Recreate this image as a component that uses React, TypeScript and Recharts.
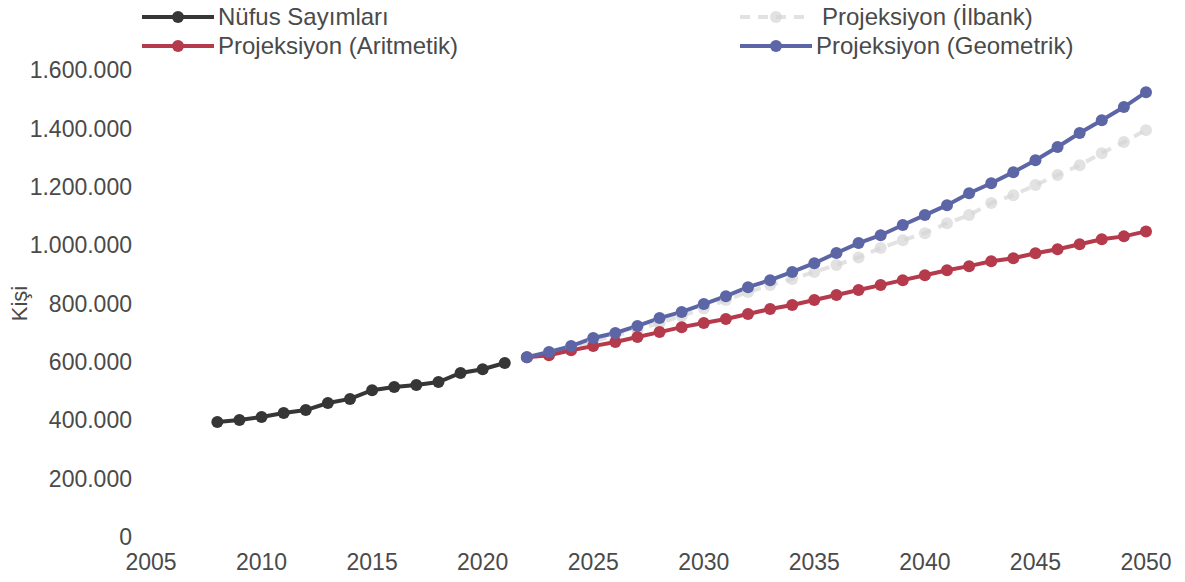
import { LineChart, Line, XAxis, YAxis } from 'recharts';

const years = [
  2008, 2009, 2010, 2011, 2012, 2013, 2014, 2015, 2016, 2017, 2018, 2019, 2020, 2021,
  2022, 2023, 2024, 2025, 2026, 2027, 2028, 2029, 2030, 2031, 2032, 2033, 2034, 2035,
  2036, 2037, 2038, 2039, 2040, 2041, 2042, 2043, 2044, 2045, 2046, 2047, 2048, 2049, 2050,
];

// 2008-2021
const censusValues = [
  394000, 401000, 411000, 425000, 435000, 459000, 473000, 503000, 514000, 521000,
  531000, 562000, 575000, 596000,
];

// 2022-2050
const ilbankValues = [
  616000, 632000, 650000, 670000, 690000, 711000, 733000, 757000, 783000, 812000,
  839000, 863000, 884000, 908000, 932000, 958000, 990000, 1017000, 1041000, 1075000,
  1103000, 1144000, 1171000, 1206000, 1240000, 1274000, 1315000, 1353000, 1394000,
];

const arithmeticValues = [
  616000, 623000, 640000, 654000, 668000, 685000, 702000, 719000, 733000, 747000,
  764000, 781000, 795000, 812000, 829000, 846000, 863000, 880000, 897000, 914000,
  928000, 945000, 955000, 972000, 986000, 1003000, 1020000, 1030000, 1047000,
];

const geometricValues = [
  616000, 634000, 654000, 682000, 699000, 723000, 750000, 771000, 798000, 825000,
  856000, 880000, 908000, 938000, 973000, 1007000, 1034000, 1069000, 1103000, 1137000,
  1178000, 1212000, 1250000, 1291000, 1336000, 1384000, 1428000, 1473000, 1524000,
];

const xTicks = [2005, 2010, 2015, 2020, 2025, 2030, 2035, 2040, 2045, 2050];
const yTicks = [0, 200000, 400000, 600000, 800000, 1000000, 1200000, 1400000, 1600000];

const FONT = '"Liberation Sans", Arial, sans-serif';
const TEXT = '#4a4a4a';

const series = [
  { key: 'ilbank', label: 'Projeksiyon (İlbank)', color: '#d6d6d6', dashed: true },
  { key: 'census', label: 'Nüfus Sayımları', color: '#363636', dashed: false },
  { key: 'arith', label: 'Projeksiyon (Aritmetik)', color: '#b53a4b', dashed: false },
  { key: 'geom', label: 'Projeksiyon (Geometrik)', color: '#5c66a6', dashed: false },
];

const firstProjection = 2022;
const data = years.map((year, i) => {
  const j = year - firstProjection;
  return {
    year,
    census: year < firstProjection ? censusValues[i] : undefined,
    ilbank: j >= 0 ? ilbankValues[j] : undefined,
    arith: j >= 0 ? arithmeticValues[j] : undefined,
    geom: j >= 0 ? geometricValues[j] : undefined,
  };
});

const fmt = (v: number) => String(v).replace(/\B(?=(\d{3})+(?!\d))/g, '.');

const legendItems = [
  { ...series[1], left: 142, top: 3 },
  { ...series[2], left: 142, top: 32 },
  { ...series[0], left: 740, top: 3 },
  { ...series[3], left: 740, top: 32 },
];

function LegendIcon({ color, dashed }: { color: string; dashed: boolean }) {
  return (
    <svg width={72} height={28} style={{ display: 'block' }}>
      <line
        x1={0}
        y1={14}
        x2={72}
        y2={14}
        stroke={color}
        strokeWidth={4}
        strokeDasharray={dashed ? '10 8' : undefined}
        opacity={dashed ? 0.7 : 1}
      />
      <circle cx={36} cy={14} r={6} fill={color} opacity={dashed ? 0.7 : 1} />
    </svg>
  );
}

export default function App() {
  return (
    <div style={{ position: 'absolute', left: 0, top: 0, width: 1185, height: 582, background: '#fff' }}>
      {legendItems.map((item) => (
        <div
          key={item.key}
          style={{
            position: 'absolute',
            left: item.left,
            top: item.top,
            display: 'flex',
            alignItems: 'center',
            fontFamily: FONT,
            fontSize: 24,
            color: TEXT,
            whiteSpace: 'nowrap',
          }}
        >
          <LegendIcon color={item.color} dashed={item.dashed} />
          <span style={{ marginLeft: item.dashed ? 10 : 4 }}>{item.label}</span>
        </div>
      ))}
      <LineChart
        width={1185}
        height={582}
        data={data}
        margin={{ top: 70, right: 39, bottom: 0, left: 0 }}
      >
        <XAxis
          dataKey="year"
          type="number"
          domain={[2005, 2050]}
          ticks={xTicks}
          axisLine={false}
          tickLine={false}
          tickSize={0}
          tickMargin={17}
          height={45}
          tick={{ fill: TEXT, fontSize: 23, fontFamily: FONT }}
        />
        <YAxis
          domain={[0, 1600000]}
          ticks={yTicks}
          tickFormatter={fmt}
          axisLine={false}
          tickLine={false}
          tickSize={0}
          tickMargin={19}
          width={151}
          tick={{ fill: TEXT, fontSize: 23, fontFamily: FONT }}
          label={{
            content: (props: any) => {
              const vb = props.viewBox || { x: 0, y: 70, height: 467 };
              const cx = vb.x + 19;
              const cy = vb.y + vb.height / 2;
              return (
                <text
                  x={cx}
                  y={cy}
                  transform={`rotate(-90 ${cx} ${cy})`}
                  textAnchor="middle"
                  dominantBaseline="central"
                  fill={TEXT}
                  fontSize={22}
                  fontFamily={FONT}
                >
                  Kişi
                </text>
              );
            },
          }}
        />
        {series.map((s) => (
          <Line
            key={s.key}
            dataKey={s.key}
            name={s.label}
            type="linear"
            stroke={s.color}
            strokeWidth={4}
            strokeDasharray={s.dashed ? '10 8' : undefined}
            strokeOpacity={s.dashed ? 0.7 : 1}
            dot={{ r: 6, fill: s.color, stroke: 'none', fillOpacity: s.dashed ? 0.7 : 1 }}
            activeDot={false}
            connectNulls={false}
            isAnimationActive={false}
          />
        ))}
      </LineChart>
    </div>
  );
}
